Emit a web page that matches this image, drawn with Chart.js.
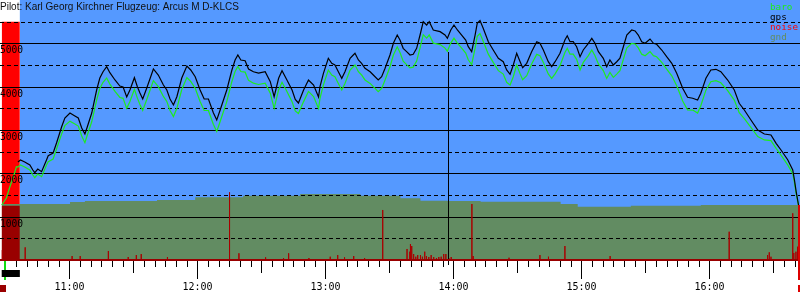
<!DOCTYPE html>
<html>
<head>
<meta charset="utf-8">
<script src="https://cdn.jsdelivr.net/npm/chart.js@4"></script>
<style>
  html, body { margin: 0; padding: 0; background: #fff; }
  canvas { display: block; }
</style>
</head>
<body>
<canvas id="barogram" width="800" height="300"></canvas>
<script>
const title = 'Pilot: Karl Georg Kirchner Flugzeug: Arcus M D-KLCS';

// all times in minutes after midnight
const viewStart = 627.5;
const viewEnd = 1002.5;
const engineStart = 628.3;
const engineEnd = 636.8;
const takeoffTime = 630;
const landingTime = 1001.9;
const markerTime = 837.6;
const markerAlt = 4800;
const engineNoise = 5500;

const hourLabels = ['11:00', '12:00', '13:00', '14:00', '15:00', '16:00'];
const altLabels = [1000, 2000, 3000, 4000, 5000];

// baro climb while the engine runs (no gps yet)
const climbTimes = [628.3, 630.5, 632.1, 633.6, 635.2];
const climbBaro = [1269, 1431, 1685, 1892, 2153];

const fixTimes = [
  635.9, 637.1, 639.1, 641.5, 642.9, 643.8, 645.2, 647.0, 649.3, 650.1,
  652.4, 654.0, 656.4, 657.9, 660.3, 662.6, 664.2, 665.8, 667.3, 668.4,
  670.5, 672.8, 674.3, 675.8, 677.5, 679.0, 681.4, 683.7, 685.2, 686.9,
  688.4, 690.5, 691.9, 693.1, 694.4, 696.3, 699.4, 701.7, 704.1, 705.7,
  707.2, 708.8, 710.4, 712.7, 715.1, 716.9, 719.0, 721.3, 723.2, 725.2,
  727.5, 729.1, 730.7, 733.8, 736.2, 737.7, 739.0, 740.4, 742.4, 744.0,
  746.3, 748.7, 751.8, 754.2, 756.0, 758.1, 759.7, 762.0, 764.4, 765.9,
  767.4, 769.8, 772.1, 774.5, 776.8,
  777.5, 779.1, 781.4, 783.0, 784.5, 786.1, 787.7, 789.2, 791.6, 793.1,
  793.9, 795.5, 797.0, 798.6, 801.0, 802.5, 804.8, 806.4, 808.0, 810.3,
  811.9, 813.7, 815.0, 816.5, 818.1, 819.7, 821.2, 822.8, 824.4, 825.9,
  827.5, 828.7, 830.6, 833.8, 836.1, 837.2, 838.8, 840.3, 841.9, 843.9,
  845.8, 847.0, 848.6, 850.2, 851.2, 852.5, 854.0, 856.4, 858.7, 861.1,
  863.4, 865.0, 866.6, 868.1, 869.7, 871.3, 872.5, 874.4, 876.7, 879.1,
  880.6, 882.2, 884.5, 886.1, 887.7, 890.0, 892.3, 893.4, 894.7, 896.2,
  897.8, 899.4, 900.9, 903.3, 904.9, 906.4, 908.0, 910.3, 911.9, 913.4,
  915.0, 916.6, 918.1, 919.7, 921.3, 923.6, 925.2, 926.7, 928.3, 929.9,
  932.2, 933.8, 935.3, 937.7, 940.0, 942.4, 944.7, 946.3,
  947.5, 949.8, 952.2, 954.5, 956.0,
  958.4, 960.7, 963.1, 965.4, 968.6, 971.7, 974.0, 976.4, 979.5, 982.7,
  985.8, 988.9, 991.3, 993.6, 996.8, 999.1, 999.9, 1000.7, 1001.4, 1001.8
];

const gpsAlt = [
  2262, 2308, 2262, 2192, 2077, 2015, 2100, 2038, 2308, 2407,
  2469, 2700, 3076, 3277, 3392, 3323, 3277, 3046, 2908, 3069,
  3392, 3923, 4200, 4345, 4461, 4322, 4154, 4015, 3992, 3762,
  3923, 4207, 3999, 3854, 3715, 3969, 4408, 4269, 4038, 3923,
  3715, 3577, 3768, 4200, 4477, 4385, 4230, 3923, 3715, 3715,
  3399, 3231, 3462, 3923, 4385, 4615, 4731, 4615, 4599, 4408,
  4345, 4315, 4345, 4115, 3768, 4193, 4368, 4154, 3923, 3708,
  3623, 3923, 4154, 4038, 3762,
  3999, 4308, 4655, 4539, 4500, 4345, 4193, 4345, 4655, 4731,
  4770, 4615, 4539, 4424, 4345, 4269, 4154, 4230, 4424, 4731,
  5001, 5192, 5077, 4885, 4807, 4731, 4747, 4885, 5192, 5499,
  5423, 5499, 5308, 5269, 5192, 5116, 5308, 5423, 5308, 5192,
  5077, 4922, 4807, 5192, 5462, 5527, 5347, 5038, 4846, 4655,
  4576, 4385, 4285, 4500, 4770, 4576, 4438, 4539, 4807, 5038,
  5001, 4846, 4576, 4461, 4576, 4770, 5077, 5176, 5038, 5038,
  4922, 4692, 4846, 5001, 5116, 5001, 4807, 4655, 4461, 4615,
  4500, 4576, 4655, 4922, 5192, 5308, 5285, 5192, 5038, 5001,
  5100, 5001, 4978, 4846, 4692, 4539, 4308, 4115,
  3962, 3755, 3732, 3692, 3847,
  4193, 4385, 4401, 4345, 4154, 3923, 3616, 3462, 3231, 3000,
  2908, 2885, 2693, 2538, 2308, 2077, 1846, 1576, 1385, 1269
];

const baroAlt = [
  2146, 2193, 2147, 2077, 1962, 1900, 1985, 1923, 2193, 2270,
  2330, 2560, 2910, 3100, 3205, 3140, 3090, 2860, 2708, 2880,
  3190, 3690, 3960, 4100, 4200, 4060, 3890, 3750, 3730, 3500,
  3660, 3940, 3735, 3590, 3450, 3705, 4140, 4000, 3775, 3660,
  3450, 3310, 3500, 3935, 4210, 4120, 3965, 3660, 3450, 3450,
  3135, 2965, 3195, 3655, 4120, 4350, 4465, 4350, 4335, 4145,
  4080, 4050, 4080, 3850, 3500, 3925, 4100, 3890, 3655, 3440,
  3380, 3655, 3890, 3770, 3495,
  3730, 4040, 4385, 4270, 4230, 4075, 3925, 4075, 4385, 4460,
  4500, 4345, 4270, 4155, 4075, 4000, 3885, 3960, 4155, 4460,
  4730, 4920, 4790, 4590, 4510, 4435, 4450, 4590, 4895, 5200,
  5120, 5195, 5005, 4970, 4890, 4815, 5005, 5120, 5005, 4890,
  4775, 4620, 4510, 4890, 5160, 5225, 5050, 4750, 4560, 4370,
  4290, 4100, 4040, 4230, 4500, 4295, 4160, 4255, 4525, 4745,
  4715, 4560, 4295, 4190, 4295, 4485, 4790, 4885, 4750, 4750,
  4630, 4385, 4560, 4715, 4845, 4715, 4525, 4370, 4190, 4330,
  4215, 4290, 4370, 4630, 4890, 5000, 4985, 4895, 4750, 4715,
  4810, 4715, 4690, 4560, 4405, 4250, 4020, 3825,
  3670, 3465, 3460, 3390, 3560,
  3920, 4115, 4140, 4090, 3910, 3690, 3400, 3260, 3060, 2850,
  2770, 2755, 2575, 2420, 2190, 1990, 1790, 1530, 1360, 1269
];

const gndTimes = [628.3, 660.3, 667.3, 701.1, 719.0, 741.5, 768.2, 796.4, 815.2, 824.6, 837.3, 852.8, 890.3, 898.3, 923.2, 956.0, 979.5, 1001.9];
const gndAlt = [1253, 1292, 1338, 1362, 1385, 1447, 1484, 1523, 1484, 1424, 1368, 1362, 1345, 1292, 1230, 1253, 1269, 1269];

const noiseTimes = [
  628.6, 639.3, 654.2, 661.3, 665.1, 678.3, 687.6, 691.4, 693.7, 706.0,
  709.9, 735.1, 739.5, 752.0, 760.4, 762.8, 764.8, 772.3, 782.3, 785.8,
  789.0, 793.3, 798.4, 801.7, 806.9, 818.3, 819.6, 819.9, 820.5, 821.4,
  822.4, 823.3, 824.6, 825.5, 826.6, 827.4, 828.5, 829.6, 830.8, 832.1,
  833.2, 834.3, 835.5, 836.5, 837.9, 839.0, 848.7, 849.3, 866.1, 868.0,
  880.6, 884.6, 892.3, 913.5, 917.2, 924.7, 969.3, 987.3, 988.1, 988.9,
  999.1, 999.6, 1000.6, 1001.4, 1002.3
];
const noiseValues = [
  230, 293, 23, 92, 92, 208, 69, 115, 138, 69,
  23, 1562, 155, 62, 46, 155, 23, 46, 76, 115,
  62, 92, 46, 23, 1154, 254, 192, 369, 323, 138,
  76, 115, 115, 76, 192, 92, 69, 115, 69, 46,
  69, 76, 138, 138, 46, 69, 1292, 92, 53, 23,
  115, 76, 323, 92, 23, 23, 653, 115, 178, 76,
  1078, 162, 192, 307, 392
];

const SKY = '#5599ff';
const GND = '#628c62';
const BARO = '#1eeb1e';
const NOISE = '#aa0000';
const DARKRED = '#990000';
const MONO = "10px 'DejaVu Sans Mono', monospace";

const toMin = s => { const [h, m] = s.split(':').map(Number); return h * 60 + m; };
const gndAt = t => { let v = gndAlt[0]; gndTimes.forEach((g, i) => { if (g <= t) v = gndAlt[i]; }); return v; };

const gpsData = fixTimes.map((t, i) => ({ x: t, y: gpsAlt[i] }));
const baroData = climbTimes.map((t, i) => ({ x: t, y: climbBaro[i] }))
  .concat(fixTimes.map((t, i) => ({ x: t, y: baroAlt[i] })));
const gndData = gndTimes.map((t, i) => ({ x: t, y: gndAlt[i] }));
const noiseData = [];
noiseTimes.forEach((t, i) => {
  noiseData.push({ x: t, y: 0 }, { x: t, y: noiseValues[i] }, { x: t, y: 0 });
});
const engineData = [{ x: engineStart, y: engineNoise }, { x: engineEnd, y: engineNoise }];
const engineGndData = [{ x: engineStart, y: gndAt(engineStart) }, { x: engineEnd, y: gndAt(engineEnd) }];

const decor = {
  id: 'decor',
  beforeDatasetsDraw(chart) {
    const { ctx, chartArea: a, scales: { x } } = chart;
    const x0 = x.getPixelForValue(engineEnd);
    ctx.save();
    ctx.fillStyle = SKY;
    ctx.fillRect(x0, a.top, a.right - x0, a.bottom - a.top);
    ctx.restore();
  },
  afterDatasetDraw(chart, args) {
    const { ctx, chartArea: a, scales: { x, y } } = chart;
    const label = chart.data.datasets[args.index].label;
    if (label === 'engineGnd') {
      // altitude grid: solid every 1000, dashed in between
      ctx.save();
      ctx.strokeStyle = '#000';
      ctx.lineWidth = 1;
      for (let v = 500; v < 6000; v += 500) {
        const py = Math.round(y.getPixelForValue(v)) + 0.5;
        ctx.setLineDash(v % 1000 === 0 ? [] : [4, 3]);
        ctx.beginPath();
        ctx.moveTo(a.left, py);
        ctx.lineTo(a.right, py);
        ctx.stroke();
      }
      ctx.restore();
    }
    if (label === 'noise') {
      ctx.save();
      ctx.fillStyle = '#000';
      const px = Math.round(x.getPixelForValue(markerTime));
      const top = Math.round(y.getPixelForValue(markerAlt));
      ctx.fillRect(px, top, 1, y.getPixelForValue(0) + 5 - top);
      ctx.restore();
    }
  },
  afterDraw(chart) {
    const { ctx, chartArea: a, scales: { x, y } } = chart;
    const base = Math.round(y.getPixelForValue(0));
    ctx.save();

    // noise baseline
    ctx.fillStyle = DARKRED;
    ctx.fillRect(0, base - 1, chart.width, 2);

    // time ticks every 5 minutes
    ctx.fillStyle = '#000';
    for (let m = Math.ceil(viewStart / 5) * 5; m <= viewEnd; m += 5) {
      const px = Math.round(x.getPixelForValue(m));
      const len = m % 60 === 0 ? 18 : (m % 30 === 0 ? 12 : 6);
      ctx.fillRect(px, base + 1, 1, len);
    }

    // takeoff / engine / landing markers
    ctx.fillStyle = '#11dd11';
    ctx.fillRect(Math.round(x.getPixelForValue(takeoffTime)) - 1, base + 1, 2, 19);
    ctx.fillStyle = '#000';
    const e0 = x.getPixelForValue(engineStart), e1 = x.getPixelForValue(engineEnd);
    ctx.fillRect(e0, base + 10, e1 - e0, 7);
    ctx.fillStyle = DARKRED;
    ctx.fillRect(Math.round(e0) - 2, base + 25, 6, 7);
    const lx = Math.round(x.getPixelForValue(landingTime));
    const ltop = Math.round(y.getPixelForValue(gndAt(landingTime)));
    ctx.fillStyle = '#dd0000';
    ctx.fillRect(lx - 1, ltop, 2, base + 20 - ltop);
    ctx.fillRect(lx - 1, base + 25, 2, 7);

    // hour labels
    ctx.font = MONO;
    ctx.fillStyle = '#000';
    ctx.textAlign = 'center';
    ctx.textBaseline = 'alphabetic';
    hourLabels.forEach(s => {
      ctx.fillText(s, Math.round(x.getPixelForValue(toMin(s))) + 0.5, base + 30);
    });

    // altitude labels
    ctx.textAlign = 'left';
    ctx.font = "9.6px 'DejaVu Sans Mono', monospace";
    altLabels.forEach(v => {
      ctx.fillText(String(v), 0, Math.round(y.getPixelForValue(v)) + 10);
    });

    // title
    ctx.font = "10px 'Liberation Sans', Arial, sans-serif";
    ctx.fillStyle = '#111';
    ctx.fillText(title, 0, a.top + 10);

    // legend
    ctx.font = "9.3px 'DejaVu Sans Mono', monospace";
    const legend = ['baro', 'gps', 'noise', 'gnd'];
    legend.forEach((name, i) => {
      const ds = chart.data.datasets.find(d => d.label === name);
      ctx.fillStyle = ds.legendColor || ds.borderColor;
      ctx.fillText(name, 770, a.top + 10 + i * 10);
    });
    ctx.restore();
  }
};

new Chart(document.getElementById('barogram'), {
  type: 'line',
  data: {
    datasets: [
      { label: 'gps', data: gpsData, borderColor: '#000', borderWidth: 1.2 },
      { label: 'baro', data: baroData, borderColor: BARO, borderWidth: 1.2 },
      { label: 'noise', data: noiseData, borderColor: NOISE, legendColor: '#ff0000', borderWidth: 1 },
      { label: 'engineGnd', data: engineGndData, borderWidth: 0, borderColor: DARKRED, backgroundColor: DARKRED, fill: 'origin', stepped: 'after' },
      { label: 'gnd', data: gndData, borderWidth: 0, borderColor: GND, backgroundColor: GND, fill: 'origin', stepped: 'after' },
      { label: 'engine', data: engineData, borderWidth: 0, borderColor: '#ff0000', backgroundColor: '#ff0000', fill: 'origin' }
    ]
  },
  options: {
    responsive: false,
    animation: false,
    devicePixelRatio: 1,
    layout: { padding: { left: 0, right: 0, top: 0, bottom: 40 } },
    elements: { point: { radius: 0 }, line: { tension: 0 } },
    plugins: { legend: { display: false }, tooltip: { enabled: false } },
    scales: {
      x: { type: 'linear', min: viewStart, max: viewEnd, display: false },
      y: { min: 0, max: 6000, display: false }
    }
  },
  plugins: [decor]
});
</script>
</body>
</html>
